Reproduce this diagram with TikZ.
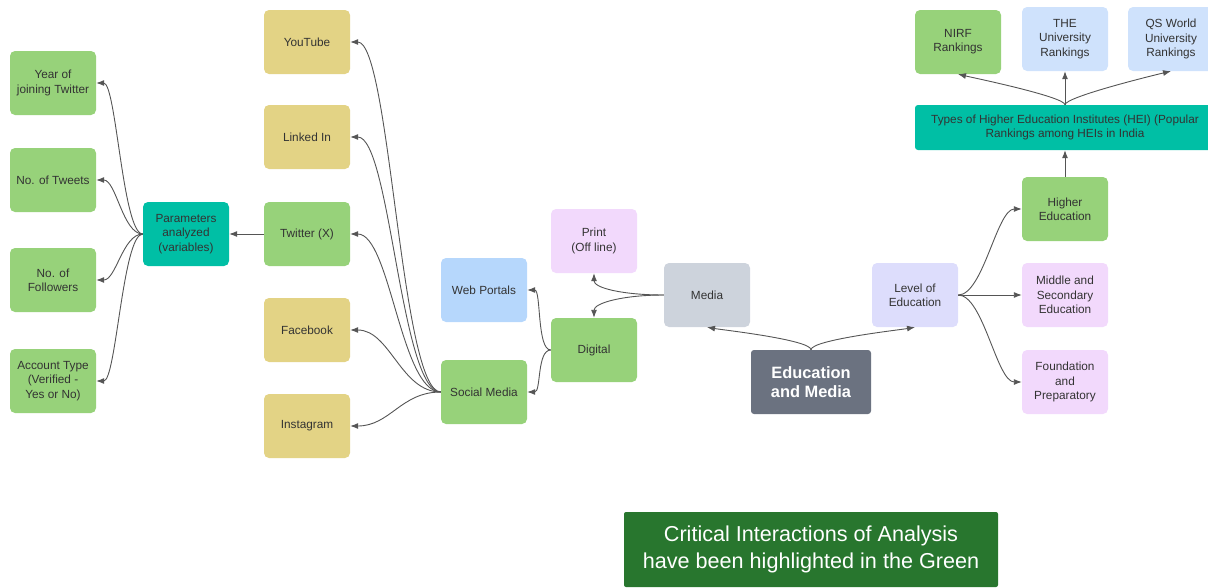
\documentclass[tikz,border=0pt]{standalone}
\usepackage{fontspec}
\setmainfont{Liberation Sans}
\usetikzlibrary{arrows.meta, positioning}

\definecolor{leafgreen}{RGB}{151,210,122}
\definecolor{tealbox}{RGB}{0,191,165}
\definecolor{khaki}{RGB}{227,211,133}
\definecolor{skyblue}{RGB}{182,215,252}
\definecolor{paleblue}{RGB}{207,226,252}
\definecolor{palepink}{RGB}{242,217,252}
\definecolor{palegray}{RGB}{205,211,220}
\definecolor{lavender}{RGB}{221,221,252}
\definecolor{slate}{RGB}{107,114,128}
\definecolor{darkgreen}{RGB}{40,118,46}
\definecolor{inkgray}{RGB}{51,51,51}
\definecolor{linkgray}{RGB}{85,85,85}

\tikzset{
    card/.style={rounded corners=5pt, minimum width=86pt, minimum height=64pt,
        inner sep=2pt, align=center, text=inkgray,
        font=\fontsize{11.8}{14.3}\selectfont},
    link/.style={draw=linkgray, line width=0.9pt, -{Latex[length=8pt,width=6pt]}},
}

\begin{document}
\begin{tikzpicture}[x=1pt, y=1pt]
    \useasboundingbox (0,0) rectangle (1208,-587);

    % Centre
    \node[card, fill=slate, text=white, minimum width=120pt, rounded corners=3pt,
        font=\fontsize{16.4}{19.5}\selectfont\bfseries] (edumedia) at (811,-382) {Education\\and Media};
    \node[card, fill=palegray] (media) at (707,-295) {Media};
    \node[card, fill=lavender] (level) at (915,-295) {Level of\\Education};

    % Media branch
    \node[card, fill=palepink] (print) at (594,-241) {Print\\(Off line)};
    \node[card, fill=leafgreen] (digital) at (594,-350) {Digital};
    \node[card, fill=skyblue] (portals) at (484,-290) {Web Portals};
    \node[card, fill=leafgreen] (social) at (484,-392) {Social Media};

    % Social media platforms
    \foreach \name/\y/\col/\txt in {youtube/42/khaki/YouTube, linkedin/137/khaki/Linked In,
        twitter/234/leafgreen/Twitter (X), facebook/330/khaki/Facebook, instagram/426/khaki/Instagram} {
        \node[card, fill=\col] (\name) at (307,-\y) {\txt};
    }

    % Parameters
    \node[card, fill=tealbox] (params) at (186,-234) {Parameters\\analyzed\\(variables)};
    \foreach \name/\y/\txt in {year/83/Year of\\joining Twitter, tweets/180/No. of Tweets,
        followers/280/No. of\\Followers, account/381/Account Type\\(Verified -\\Yes or No)} {
        \node[card, fill=leafgreen] (\name) at (53,-\y) {\txt};
    }

    % Education branch
    \node[card, fill=leafgreen] (higher) at (1065,-209) {Higher\\Education};
    \node[card, fill=palepink] (middle) at (1065,-295) {Middle and\\Secondary\\Education};
    \node[card, fill=palepink] (foundation) at (1065,-382) {Foundation\\and\\Preparatory};
    \node[card, fill=tealbox, minimum width=300pt, minimum height=45pt, rounded corners=3pt] (types)
        at (1065,-127.5) {Types of Higher Education Institutes (HEI) (Popular\\Rankings among HEIs in India};

    % Rankings
    \node[card, fill=leafgreen] (nirf) at (958,-42) {NIRF\\Rankings};
    \node[card, fill=paleblue] (therank) at (1065,-39) {THE\\University\\Rankings};
    \node[card, fill=paleblue] (qsrank) at (1171,-39) {QS World\\University\\Rankings};

    % Legend
    \node[fill=darkgreen, text=white, minimum width=374pt, minimum height=75pt, rounded corners=2pt,
        align=center, font=\fontsize{21.6}{27}\selectfont] (legend) at (811,-549.5)
        {Critical Interactions of Analysis\\have been highlighted in the Green};

    % Connectors
    \draw[link] (edumedia.north) to[out=90, in=-10, out distance=10pt, in distance=15pt] (media.south);
    \draw[link] (edumedia.north) to[out=90, in=190, out distance=10pt, in distance=15pt] (level.south);

    \draw[link] (media.west) to[out=180, in=-90, out distance=40pt, in distance=15pt] (print.south);
    \draw[link] (media.west) to[out=180, in=90, out distance=40pt, in distance=15pt] (digital.north);

    \draw[link] (digital.west) to[out=180, in=0, distance=14pt] (portals.east);
    \draw[link] (digital.west) to[out=180, in=0, distance=14pt] (social.east);

    \foreach \name in {youtube, linkedin, twitter, facebook, instagram} {
        \draw[link] (social.west) to[out=180, in=0, distance=40pt] (\name.east);
    }

    \draw[link] (twitter.west) -- (params.east);
    \foreach \name in {year, tweets, followers, account} {
        \draw[link] (params.west) to[out=180, in=0, distance=20pt] (\name.east);
    }

    \draw[link] (level.east) to[out=0, in=180, distance=25pt] (higher.west);
    \draw[link] (level.east) -- (middle.west);
    \draw[link] (level.east) to[out=0, in=180, distance=25pt] (foundation.west);

    \draw[link] (higher.north) -- (types.south);
    \draw[link] (types.north) to[out=90, in=-13, out distance=8pt, in distance=15pt] (nirf.south);
    \draw[link] (types.north) -- (therank.south);
    \draw[link] (types.north) to[out=90, in=193, out distance=8pt, in distance=15pt] (qsrank.south);

\end{tikzpicture}
\end{document}
